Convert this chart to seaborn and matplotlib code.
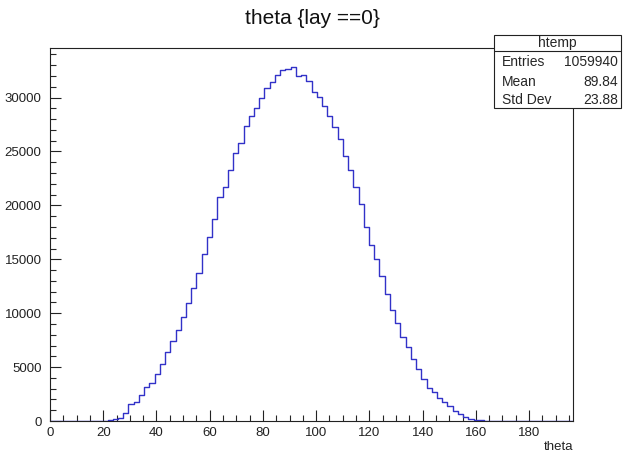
import numpy as np
import pandas as pd
import matplotlib
matplotlib.use("Agg")
import matplotlib.pyplot as plt
import seaborn as sns
from matplotlib.ticker import MultipleLocator
from matplotlib.patches import Rectangle
from matplotlib.lines import Line2D

# ---------------- data ----------------
title = "theta {lay ==0}"
x_label = "theta"
x_min, x_max, n_bins = 0.0, 196.5, 100
counts = [
    0, 0, 0, 0, 0, 0, 0, 0, 0,
    5, 20, 60, 150,
    310, 770, 1550, 1790, 2410, 3130, 3560, 4360, 5290, 6380, 7430, 8450, 9630,
    10930, 12300, 13700, 15500, 17060, 18780, 20800, 21700, 23240, 24900, 25820,
    27390, 28260, 29030, 29960, 30890, 31450, 32130, 32590, 32650, 32800, 31970,
    32060, 31500, 30520, 30060, 29180, 28300, 27250, 26200,
    24600, 23240, 21660, 20150, 18040, 16340, 15010, 13460,
    11760, 10310, 9130, 7770, 6900, 5760, 4830, 3900, 3090, 2660, 2160, 1740,
    1390, 960, 620, 400, 210, 120, 50, 20, 5,
    0, 0, 0, 0, 0, 0, 0, 0, 0, 0, 0, 0, 0, 0, 0,
]
stats_name = "htemp"
stats_labels = ["Entries", "Mean", "Std Dev"]
stats_values = ["1059940", "89.84", "23.88"]
x_ticks = [0, 20, 40, 60, 80, 100, 120, 140, 160, 180]
y_ticks = [0, 5000, 10000, 15000, 20000, 25000, 30000]
y_max = 34600

# ---------------- style ----------------
sns.set_style("ticks")
plt.rcParams["font.family"] = ["Liberation Sans", "DejaVu Sans"]

W, H = 625, 453
fig = plt.figure(figsize=(W / 100, H / 100), dpi=100)
ax = fig.add_axes([50 / W, 1 - 421 / H, (573 - 50) / W, (421 - 48) / H])

edges = np.linspace(x_min, x_max, n_bins + 1)
centers = 0.5 * (edges[:-1] + edges[1:])
df = pd.DataFrame({"theta": centers, "count": np.asarray(counts, dtype=float)})

sns.histplot(data=df, x="theta", weights="count", bins=n_bins, binrange=(x_min, x_max),
             element="step", fill=False, color="#3232c8", linewidth=1.0, ax=ax)

ax.set_xlim(x_min, x_max)
ax.set_ylim(0, y_max)
ax.set_xticks(x_ticks)
ax.set_yticks(y_ticks)
ax.xaxis.set_minor_locator(MultipleLocator(5))
ax.yaxis.set_minor_locator(MultipleLocator(1000))
ax.tick_params(axis="both", which="major", direction="in", length=8, width=0.8,
               labelsize=9.5, colors="#222222")
ax.tick_params(axis="y", which="major", pad=6)
ax.tick_params(axis="x", which="major", pad=4)
ax.tick_params(axis="both", which="minor", direction="in", length=4, width=0.8)
ax.tick_params(top=False, right=False, which="both")
for s in ax.spines.values():
    s.set_visible(True)
    s.set_color("#222222")
    s.set_linewidth(0.8)

ax.set_xlabel("")
ax.set_ylabel("")
fig.text(573 / W, 1 - 447 / H, x_label, ha="right", va="center", fontsize=9.5, color="#222222")
fig.text(312 / W, 1 - 18 / H, title, ha="center", va="center", fontsize=15, color="#111111")

# stats box
bx0, bx1 = 494 / W, 621 / W
by_top, by_bot, by_head = 1 - 34.5 / H, 1 - 107.5 / H, 1 - 50.5 / H
fig.add_artist(Rectangle((bx0, by_bot), bx1 - bx0, by_top - by_bot, transform=fig.transFigure,
                         facecolor="white", edgecolor="#222222", linewidth=0.8, zorder=5))
fig.add_artist(Line2D([bx0, bx1], [by_head, by_head], transform=fig.transFigure,
                      color="#222222", linewidth=0.8, zorder=6))
fig.text((bx0 + bx1) / 2, 1 - 42.5 / H, stats_name, ha="center", va="center", fontsize=10, zorder=7)
row_y = [62, 82, 100]
for lab, val, yy in zip(stats_labels, stats_values, row_y):
    fig.text(502 / W, 1 - yy / H, lab, ha="left", va="center", fontsize=10, zorder=7)
    fig.text(618 / W, 1 - yy / H, val, ha="right", va="center", fontsize=10, zorder=7)

fig.savefig("out.png", dpi=100, facecolor="white")
